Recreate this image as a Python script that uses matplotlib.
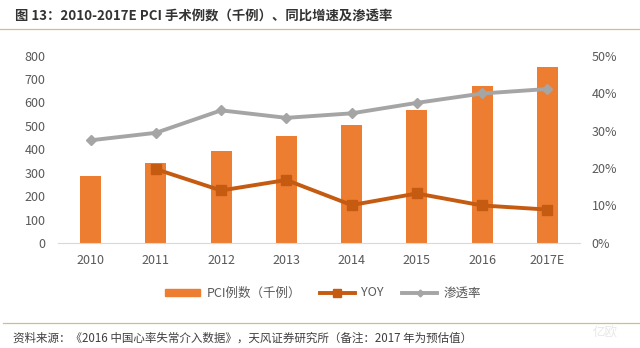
import matplotlib
matplotlib.use("Agg")
import matplotlib.pyplot as plt
from matplotlib.lines import Line2D
from matplotlib.patches import Patch

plt.rcParams["font.family"] = ["Noto Sans CJK SC", "DejaVu Sans"]

# Data
years = ["2010", "2011", "2012", "2013", "2014", "2015", "2016", "2017E"]
pci_cases = [286, 343, 391, 456, 503, 570, 670, 753]  # thousand cases
yoy = [None, 19.7, 14.0, 16.8, 10.1, 13.2, 10.0, 8.9]  # %
penetration = [27.4, 29.4, 35.4, 33.4, 34.6, 37.4, 39.9, 41.1]  # %

left_ticks = [0, 100, 200, 300, 400, 500, 600, 700, 800]
right_ticks = [0, 10, 20, 30, 40, 50]

bar_color = "#ED7D31"
yoy_color = "#C55A11"
pen_color = "#A5A5A5"
tick_color = "#595959"
rule_color = "#D8B98C"

fig = plt.figure(figsize=(6.4, 3.48), dpi=100)
ax = fig.add_axes([0.0906, 0.302, 0.8156, 0.538])
ax2 = ax.twinx()

x = list(range(len(years)))
ax.bar(x, pci_cases, width=0.32, color=bar_color, zorder=2)
ax.set_ylim(0, 800)
ax.set_xlim(-0.5, len(years) - 0.5)
ax.set_yticks(left_ticks)
ax.set_xticks(x)
ax.set_xticklabels(years)

yx = [i for i, v in zip(x, yoy) if v is not None]
yv = [v for v in yoy if v is not None]
ax2.plot(yx, yv, color=yoy_color, lw=2.8, marker="s", markersize=7, zorder=3)
ax2.plot(x, penetration, color=pen_color, lw=2.8, marker="D", markersize=5.5, zorder=3)
ax2.set_ylim(0, 50)
ax2.set_yticks(right_ticks)
ax2.set_yticklabels(["%d%%" % t for t in right_ticks])

for a in (ax, ax2):
    for s in a.spines.values():
        s.set_visible(False)
    a.tick_params(length=0, labelsize=9, colors=tick_color)
ax.spines["bottom"].set_visible(True)
ax.spines["bottom"].set_color("#D9D9D9")
ax.tick_params(axis="y", pad=9)
ax.tick_params(axis="x", pad=8)
ax2.tick_params(axis="y", pad=8.5)

# Title and rules
fig.text(15 / 640, 1 - 16 / 348, "图 13：2010-2017E PCI 手术例数（千例）、同比增速及渗透率",
         fontsize=9.6, fontweight="bold", color="#333333", va="center", ha="left")
fig.add_artist(Line2D([0, 1], [1 - 29 / 348] * 2, color=rule_color, lw=0.9))
fig.add_artist(Line2D([3 / 640, 1], [1 - 323 / 348] * 2, color=rule_color, lw=0.9))

# Legend
handles = [
    Patch(color=bar_color),
    Line2D([], [], color=yoy_color, lw=2.8, marker="s", markersize=5.5),
    Line2D([], [], color=pen_color, lw=2.8, marker="D", markersize=3.5),
]
fig.legend(handles, ["PCI例数（千例）", "YOY", "渗透率"], loc="center",
           bbox_to_anchor=(323 / 640, 1 - 293 / 348), ncol=3, frameon=False,
           fontsize=9, handlelength=2.8, handleheight=0.5, columnspacing=1.5,
           handletextpad=0.5, labelcolor=tick_color)

# Source note
fig.text(13 / 640, 1 - 338 / 348,
         "资料来源：《2016 中国心率失常介入数据》，天风证券研究所（备注：2017 年为预估值）",
         fontsize=8.3, color="#404040", va="center", ha="left")
fig.text(605 / 640, 1 - 333 / 348, "亿欧", fontsize=9, color="#E8E8E8",
         va="center", ha="center")

fig.savefig("out.png", dpi=100)
